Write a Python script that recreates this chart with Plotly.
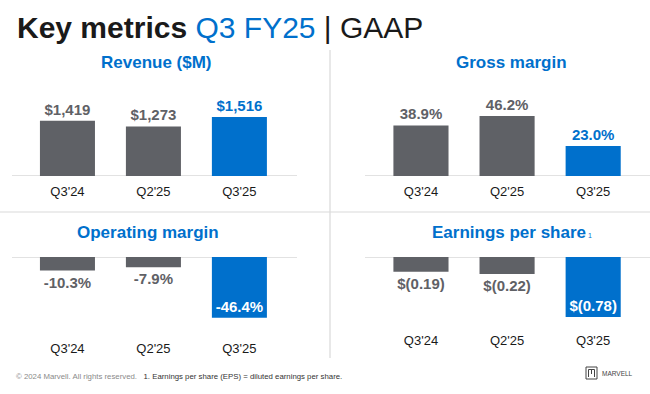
import plotly.graph_objects as go

W, H = 650, 394

quarters = ["Q3'24", "Q2'25", "Q3'25"]
revenue = [1419, 1273, 1516]
gross_margin = [38.9, 46.2, 23.0]
operating_margin = [-10.3, -7.9, -46.4]
eps = [-0.19, -0.22, -0.78]

GRAY = "#5f6166"
BLUE = "#0070cc"
LINE = "#d9d9d9"
FONT = "Arial, Liberation Sans, sans-serif"

bar_colors = [GRAY, GRAY, BLUE]


def px_x(p):
    return p / W


def px_y(p):
    return 1 - p / H


rev_text = ["$" + format(v, ",") for v in revenue]
gm_text = [f"{v:.1f}%" for v in gross_margin]
om_text = [f"{v:.1f}%" for v in operating_margin]
eps_text = [f"$({abs(v):.2f})" for v in eps]

fig = go.Figure()

common = dict(width=0.64, marker=dict(color=bar_colors, line=dict(width=0)),
              textangle=0, cliponaxis=False, hoverinfo="skip")

fig.add_trace(go.Bar(x=quarters, y=revenue, text=rev_text, textposition="outside",
                     textfont=dict(family=FONT, size=15, weight="bold", color=[GRAY, GRAY, BLUE]),
                     xaxis="x", yaxis="y", **common))
fig.add_trace(go.Bar(x=quarters, y=gross_margin, text=gm_text, textposition="outside",
                     textfont=dict(family=FONT, size=15, weight="bold", color=[GRAY, GRAY, BLUE]),
                     xaxis="x2", yaxis="y2", **common))
fig.add_trace(go.Bar(x=quarters, y=operating_margin, text=om_text,
                     textposition=["outside", "outside", "inside"], insidetextanchor="end",
                     textfont=dict(family=FONT, size=15, weight="bold", color=[GRAY, GRAY, "white"]),
                     xaxis="x3", yaxis="y3", **common))
fig.add_trace(go.Bar(x=quarters, y=eps, text=eps_text,
                     textposition=["outside", "outside", "inside"], insidetextanchor="end",
                     textfont=dict(family=FONT, size=15, weight="bold", color=[GRAY, GRAY, "white"]),
                     xaxis="x4", yaxis="y4", **common))

xcommon = dict(type="category", showgrid=False, zeroline=False, showline=False, ticks="",
               tickfont=dict(family=FONT, size=13, color="#1a1a1a"), fixedrange=True,
               ticklabelstandoff=6)
ycommon = dict(visible=False, showgrid=False, zeroline=False, fixedrange=True)

left_dom = [px_x(12), px_x(297)]
right_dom = [px_x(365), 1.0]

fig.update_layout(
    width=W, height=H, margin=dict(l=0, r=0, t=0, b=0),
    paper_bgcolor="white", plot_bgcolor="rgba(0,0,0,0)",
    showlegend=False, bargap=0.36,
    uniformtext=dict(minsize=15, mode="show"),
    xaxis=dict(domain=left_dom, anchor="y", range=[-0.645, 2.67], **xcommon),
    yaxis=dict(domain=[px_y(176), px_y(90)], anchor="x", range=[0, 2211], **ycommon),
    xaxis2=dict(domain=right_dom, anchor="y2", range=[-0.65, 2.66], **xcommon),
    yaxis2=dict(domain=[px_y(176), px_y(90)], anchor="x2", range=[0, 66.15], **ycommon),
    xaxis3=dict(domain=left_dom, anchor="y3", range=[-0.645, 2.67], **xcommon),
    yaxis3=dict(domain=[px_y(333), px_y(257)], anchor="x3", range=[-58.0, 0], **ycommon),
    xaxis4=dict(domain=right_dom, anchor="y4", range=[-0.65, 2.66], **xcommon),
    yaxis4=dict(domain=[px_y(325), px_y(257)], anchor="x4", range=[-0.883, 0], **ycommon),
)

shapes = []
# baselines at zero
for xr, yr in [("x", "y"), ("x2", "y2"), ("x3", "y3"), ("x4", "y4")]:
    shapes.append(dict(type="line", xref=f"{xr} domain", yref=yr, x0=0, x1=1, y0=0, y1=0,
                       line=dict(color=LINE, width=1.5), layer="below"))
# dividers
shapes.append(dict(type="line", xref="paper", yref="paper", x0=px_x(330), x1=px_x(330),
                   y0=px_y(50), y1=px_y(358), line=dict(color=LINE, width=1.2)))
shapes.append(dict(type="line", xref="paper", yref="paper", x0=0, x1=1,
                   y0=px_y(212), y1=px_y(212), line=dict(color=LINE, width=1.2)))
# logo box
shapes.append(dict(type="rect", xref="paper", yref="paper", x0=px_x(586), x1=px_x(597),
                   y0=px_y(379), y1=px_y(367), line=dict(color="#444", width=1)))
shapes.append(dict(type="path", xref="paper", yref="paper",
                   path=f"M {px_x(588.5)} {px_y(377)} L {px_x(588.5)} {px_y(369.5)} L {px_x(594.5)} {px_y(369.5)} "
                        f"L {px_x(594.5)} {px_y(377)} M {px_x(591.5)} {px_y(369.5)} L {px_x(591.5)} {px_y(374)}",
                   line=dict(color="#444", width=1)))
fig.update_layout(shapes=shapes)

ann = []
ann.append(dict(xref="paper", yref="paper", x=px_x(15), y=px_y(28), xanchor="left", yanchor="middle",
                showarrow=False,
                text="<b>Key metrics</b> <span style='color:" + BLUE + "'>Q3 FY25</span> | GAAP",
                font=dict(family=FONT, size=30, color="#1a1a1a")))
for txt, cx, cy in [("Revenue ($M)", 156, 62), ("Gross margin", 511, 62),
                    ("Operating margin", 148, 232)]:
    ann.append(dict(xref="paper", yref="paper", x=px_x(cx), y=px_y(cy), xanchor="center",
                    yanchor="middle", showarrow=False, text=f"<b>{txt}</b>",
                    font=dict(family=FONT, size=17, color=BLUE)))
ann.append(dict(xref="paper", yref="paper", x=px_x(430), y=px_y(232), xanchor="left",
                yanchor="middle", showarrow=False,
                text="<b>Earnings per share</b><span style='font-size:7px'> 1</span>",
                font=dict(family=FONT, size=17, color=BLUE)))
ann.append(dict(xref="paper", yref="paper", x=px_x(14), y=px_y(376), xanchor="left",
                yanchor="middle", showarrow=False,
                text="<span style='color:#8a8a8a'>© 2024 Marvell. All rights reserved.</span>"
                     "&nbsp;&nbsp;&nbsp;1. Earnings per share (EPS) = diluted earnings per share.",
                font=dict(family=FONT, size=7.8, color="#333333")))
ann.append(dict(xref="paper", yref="paper", x=px_x(600), y=px_y(373.5), xanchor="left",
                yanchor="middle", showarrow=False, text="MARVELL",
                font=dict(family=FONT, size=6.5, color="#444")))
fig.update_layout(annotations=ann)

fig.write_html("out.html", config={"displayModeBar": False},
               post_script="document.body.style.margin='0';document.body.style.overflow='hidden';")
